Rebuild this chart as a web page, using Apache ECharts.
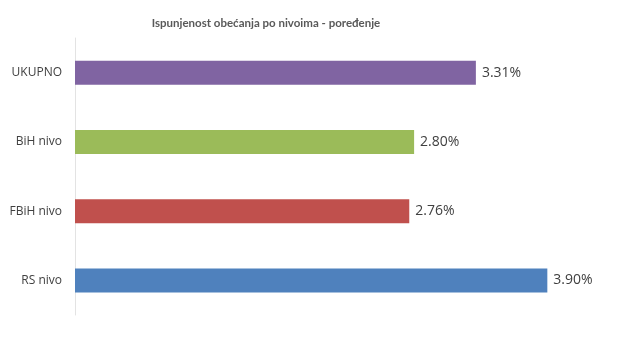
<!DOCTYPE html>
<html><head><meta charset="utf-8">
<script src="https://cdn.jsdelivr.net/npm/echarts@6/dist/echarts.min.js"></script>
<style>html,body{margin:0;padding:0;background:#fff}#c{width:632px;height:364px}</style>
</head><body><div id="c"></div>
<script>
const titleText = 'Ispunjenost obećanja po nivoima - poređenje';
const categories = ['RS nivo', 'FBiH nivo', 'BiH nivo', 'UKUPNO'];
const values = [3.90, 2.76, 2.80, 3.31];
const colors = ['#4F81BD', '#C0504D', '#9BBB59', '#8064A2'];

const chart = echarts.init(document.getElementById('c'));
chart.setOption({
  animation: false,
  title: {
    text: titleText, left: 261, top: 12, textAlign: 'center',
    textStyle: {fontFamily: 'Lato', fontSize: 11.5, fontWeight: 'bold', color: '#595959'}
  },
  grid: {left: 75, width: 545, top: 38, height: 277, containLabel: false},
  xAxis: {
    type: 'value', min: 0, max: 4.5,
    axisLine: {show: false}, axisTick: {show: false}, axisLabel: {show: false}, splitLine: {show: false}
  },
  yAxis: {
    type: 'category', data: categories,
    axisLine: {show: true, lineStyle: {color: '#E3E3E3', width: 1}},
    axisTick: {show: false},
    axisLabel: {margin: 13, fontFamily: 'Open Sans', fontSize: 12, color: '#404040'}
  },
  series: [{
    type: 'bar', barWidth: 24,
    data: values.map((v, i) => ({value: v, itemStyle: {color: colors[i]}})),
    label: {
      show: true, position: 'right', distance: 6,
      formatter: p => p.value.toFixed(2) + '%',
      fontFamily: 'Open Sans', fontSize: 14, color: '#404040'
    }
  }]
});
</script></body></html>
